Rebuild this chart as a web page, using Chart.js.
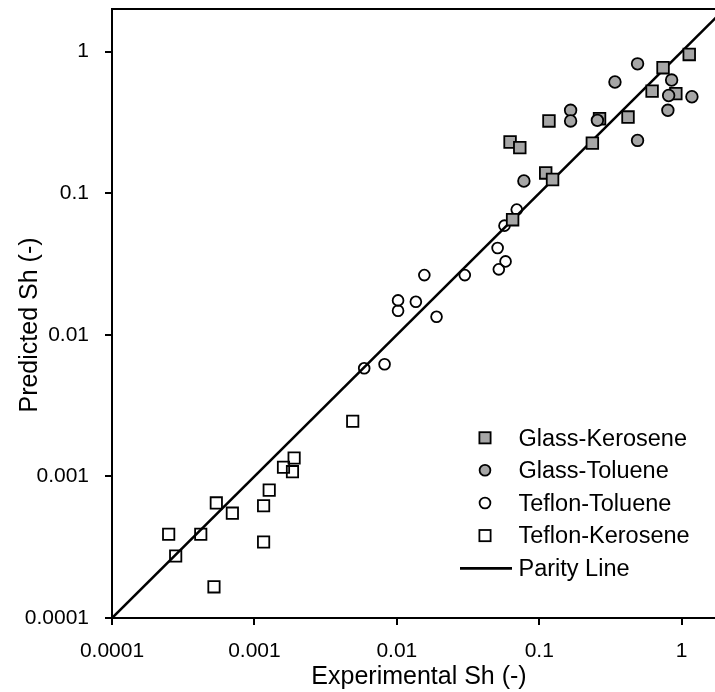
<!DOCTYPE html>
<html><head><meta charset="utf-8">
<script src="https://cdn.jsdelivr.net/npm/chart.js@4/dist/chart.umd.min.js"></script>
<style>html,body{margin:0;padding:0;background:#fff;}canvas{display:block;}</style>
</head><body>
<canvas id="c" width="715" height="692"></canvas>
<script>
// ---- data ----
const tickValues = [0.0001, 0.001, 0.01, 0.1, 1];
const tickLabels = ['0.0001', '0.001', '0.01', '0.1', '1'];

const glassKeroseneX = [1.13, 0.74, 0.62, 0.91, 0.42, 0.265, 0.117, 0.0624, 0.073, 0.236, 0.111, 0.124, 0.065];
const glassKeroseneY = [0.955, 0.77, 0.526, 0.505, 0.345, 0.336, 0.324, 0.230, 0.210, 0.226, 0.139, 0.125, 0.065];

const glassTolueneX = [0.49, 0.34, 0.85, 0.81, 1.18, 0.80, 0.166, 0.166, 0.256, 0.49, 0.078];
const glassTolueneY = [0.82, 0.61, 0.63, 0.49, 0.48, 0.385, 0.385, 0.324, 0.327, 0.236, 0.122];

const teflonTolueneX = [0.0695, 0.057, 0.051, 0.058, 0.052, 0.0156, 0.030, 0.0102, 0.0102, 0.0136, 0.019, 0.0059, 0.0082];
const teflonTolueneY = [0.0766, 0.059, 0.041, 0.033, 0.029, 0.0264, 0.0264, 0.0175, 0.0148, 0.0171, 0.0134, 0.0058, 0.0062];

const teflonKeroseneX = [0.0049, 0.0019, 0.0016, 0.00185, 0.00127, 0.00116, 0.00116, 0.00054, 0.0007, 0.00025, 0.00042, 0.00028, 0.00052];
const teflonKeroseneY = [0.00245, 0.00135, 0.00116, 0.00108, 0.0008, 0.00062, 0.000344, 0.00065, 0.00055, 0.00039, 0.00039, 0.000274, 0.000166];

const parityX = [0.0001, 2];
const parityY = [0.0001, 2];

const seriesNames = ['Glass-Kerosene', 'Glass-Toluene', 'Teflon-Toluene', 'Teflon-Kerosene', 'Parity Line'];
const xTitle = 'Experimental Sh (-)';
const yTitle = 'Predicted Sh (-)';

// ---- build ----
const pts = (xs, ys) => xs.map((x, i) => ({x: x, y: ys[i]}));
const FONT = '"Liberation Sans", Arial, sans-serif';
const GRAY = '#a6a6a6';

const datasets = [
  {label: seriesNames[0], data: pts(glassKeroseneX, glassKeroseneY), pointStyle: 'rect', pointRadius: 8.2,
   backgroundColor: GRAY, borderColor: '#000', borderWidth: 1.8, order: 1},
  {label: seriesNames[1], data: pts(glassTolueneX, glassTolueneY), pointStyle: 'circle', pointRadius: 5.8,
   backgroundColor: GRAY, borderColor: '#000', borderWidth: 1.8, order: 0},
  {label: seriesNames[2], data: pts(teflonTolueneX, teflonTolueneY), pointStyle: 'circle', pointRadius: 5.4,
   backgroundColor: 'rgba(0,0,0,0)', borderColor: '#000', borderWidth: 1.8, order: 3},
  {label: seriesNames[3], data: pts(teflonKeroseneX, teflonKeroseneY), pointStyle: 'rect', pointRadius: 8.0,
   backgroundColor: 'rgba(0,0,0,0)', borderColor: '#000', borderWidth: 1.8, order: 4},
  {label: seriesNames[4], data: pts(parityX, parityY), showLine: true, pointRadius: 0,
   borderColor: '#000', borderWidth: 2.6, fill: false, order: 2}
];

const extras = {
  id: 'extras',
  afterDraw(chart) {
    const ctx = chart.ctx, a = chart.chartArea;
    ctx.save();
    // top border
    ctx.strokeStyle = '#000'; ctx.lineWidth = 2;
    ctx.beginPath(); ctx.moveTo(a.left - 1, a.top); ctx.lineTo(chart.width, a.top); ctx.stroke();
    // axis titles
    ctx.fillStyle = '#000';
    ctx.font = '25px ' + FONT;
    ctx.textAlign = 'center'; ctx.textBaseline = 'alphabetic';
    ctx.fillText(xTitle, 419, 684);
    ctx.save();
    ctx.translate(36.5, 325); ctx.rotate(-Math.PI / 2);
    ctx.fillText(yTitle, 0, 0);
    ctx.restore();
    // legend
    const mx = 485, tx = 518.5;
    const rowsY = [437.8, 470.2, 503.0, 535.6, 568.4];
    const base = [445.7, 478.3, 511.0, 543.3, 576.0];
    ctx.font = '23.5px ' + FONT;
    ctx.textAlign = 'left';
    for (let i = 0; i < 5; i++) {
      const ds = datasets[i];
      const y = rowsY[i];
      ctx.lineWidth = 1.8; ctx.strokeStyle = '#000';
      if (i === 4) {
        ctx.lineWidth = 2.6;
        ctx.beginPath(); ctx.moveTo(460, y); ctx.lineTo(512, y); ctx.stroke();
      } else if (ds.pointStyle === 'rect') {
        ctx.fillStyle = ds.backgroundColor;
        ctx.fillRect(mx - 5.6, y - 5.6, 11.2, 11.2);
        ctx.strokeRect(mx - 5.6, y - 5.6, 11.2, 11.2);
      } else {
        ctx.fillStyle = ds.backgroundColor;
        ctx.beginPath(); ctx.arc(mx, y, 5.4, 0, Math.PI * 2); ctx.fill(); ctx.stroke();
      }
      ctx.fillStyle = '#000';
      ctx.fillText(ds.label, tx, base[i]);
    }
    ctx.restore();
  }
};

const axisCommon = (isX) => ({
  type: 'logarithmic',
  min: 0.0001,
  max: isX ? 1.714 : 2,
  position: isX ? 'bottom' : 'left',
  afterBuildTicks: (s) => { s.ticks = tickValues.map(v => ({value: v})); },
  afterFit: (s) => {
    if (isX) s.height = 74; else s.width = 112;
    s.paddingTop = 0; s.paddingBottom = 0; s.paddingLeft = 0; s.paddingRight = 0;
  },
  grid: {display: true, drawOnChartArea: false, drawTicks: true, tickLength: 7, color: '#000', lineWidth: 2},
  border: {display: true, color: '#000', width: 2},
  ticks: {
    autoSkip: false, maxRotation: 0, minRotation: 0,
    padding: isX ? 14 : 16,
    color: '#000',
    font: {family: FONT, size: 21},
    callback: (v, i) => tickLabels[i]
  },
  title: {display: false}
});

new Chart(document.getElementById('c'), {
  type: 'scatter',
  data: {datasets: datasets},
  options: {
    responsive: false,
    animation: false,
    devicePixelRatio: 1,
    layout: {autoPadding: false, padding: {top: 9, left: 0, right: 0, bottom: 0}},
    plugins: {legend: {display: false}, tooltip: {enabled: false}},
    scales: {x: axisCommon(true), y: axisCommon(false)}
  },
  plugins: [extras]
});
</script>
</body></html>
